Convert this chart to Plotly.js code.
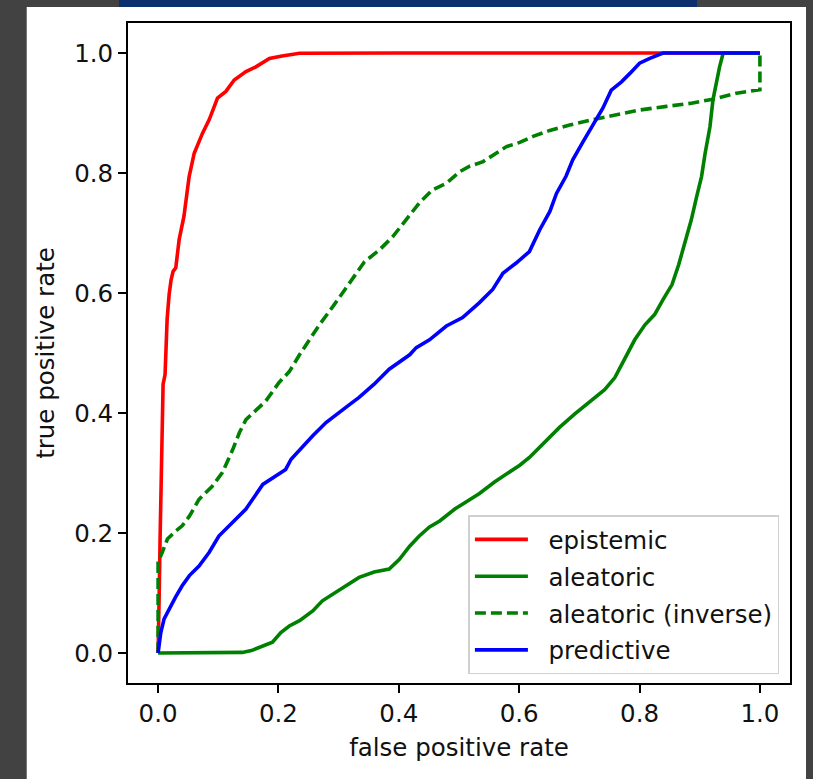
<!DOCTYPE html>
<html>
<head>
<meta charset="utf-8">
<script src="https://cdn.plot.ly/plotly-3.0.1.min.js"></script>
<style>
html,body{margin:0;padding:0;background:#424242;}
#chart{width:813px;height:779px;}
</style>
</head>
<body>
<div id="chart"></div>
<script>
// ---- data (ROC curves) ----
const epistemicX = [0, 0.0008, 0.0017, 0.0033, 0.005, 0.0067, 0.0083, 0.0116, 0.0133, 0.015, 0.0183, 0.0216, 0.025, 0.0294, 0.035, 0.043, 0.0516, 0.06, 0.0737, 0.085, 0.0987, 0.1126, 0.1265, 0.146, 0.1625, 0.185, 0.206, 0.235, 0.4, 0.6, 0.8, 1.0];
const epistemicY = [0, 0.023, 0.09, 0.19, 0.306, 0.423, 0.448, 0.464, 0.506, 0.556, 0.597, 0.622, 0.636, 0.642, 0.689, 0.728, 0.794, 0.833, 0.866, 0.889, 0.925, 0.936, 0.955, 0.969, 0.977, 0.991, 0.995, 0.9995, 1.0, 1.0, 1.0, 1.0];

const aleatoricX = [0, 0.05, 0.1, 0.14, 0.155, 0.168, 0.19, 0.204, 0.218, 0.235, 0.257, 0.273, 0.29, 0.312, 0.334, 0.359, 0.384, 0.401, 0.418, 0.434, 0.451, 0.468, 0.493, 0.509, 0.534, 0.559, 0.584, 0.601, 0.617, 0.634, 0.651, 0.667, 0.692, 0.717, 0.742, 0.759, 0.775, 0.792, 0.809, 0.825, 0.839, 0.854, 0.865, 0.874, 0.88, 0.886, 0.895, 0.903, 0.909, 0.917, 0.922, 0.928, 0.933, 0.939, 1.0];
const aleatoricY = [0, 0, 0, 0.001, 0.004, 0.0095, 0.018, 0.034, 0.045, 0.054, 0.07, 0.087, 0.098, 0.112, 0.126, 0.135, 0.14, 0.156, 0.178, 0.195, 0.21, 0.22, 0.24, 0.25, 0.266, 0.285, 0.301, 0.313, 0.326, 0.343, 0.36, 0.376, 0.398, 0.418, 0.439, 0.459, 0.489, 0.522, 0.547, 0.564, 0.589, 0.614, 0.647, 0.68, 0.705, 0.722, 0.761, 0.794, 0.833, 0.877, 0.922, 0.955, 0.977, 1.0, 1.0];

const inverseX = [0, 0, 0, 0.007, 0.0155, 0.029, 0.04, 0.052, 0.068, 0.09, 0.107, 0.124, 0.135, 0.146, 0.163, 0.179, 0.201, 0.218, 0.235, 0.251, 0.268, 0.293, 0.318, 0.343, 0.368, 0.39, 0.412, 0.434, 0.456, 0.479, 0.501, 0.517, 0.54, 0.562, 0.579, 0.601, 0.623, 0.651, 0.684, 0.723, 0.762, 0.8, 0.845, 0.884, 0.922, 0.961, 1.0, 1.0];
const inverseY = [0, 0.08, 0.151, 0.168, 0.19, 0.203, 0.212, 0.228, 0.256, 0.278, 0.301, 0.339, 0.367, 0.389, 0.406, 0.42, 0.451, 0.469, 0.497, 0.522, 0.547, 0.581, 0.617, 0.652, 0.672, 0.694, 0.722, 0.75, 0.772, 0.783, 0.802, 0.811, 0.819, 0.833, 0.844, 0.851, 0.861, 0.871, 0.880, 0.889, 0.897, 0.905, 0.911, 0.916, 0.923, 0.933, 0.939, 1.0];

const predictiveX = [0, 0.0045, 0.01, 0.018, 0.029, 0.04, 0.052, 0.068, 0.085, 0.101, 0.124, 0.146, 0.174, 0.19, 0.212, 0.221, 0.235, 0.257, 0.279, 0.301, 0.318, 0.334, 0.359, 0.384, 0.418, 0.429, 0.451, 0.479, 0.506, 0.534, 0.556, 0.573, 0.595, 0.617, 0.634, 0.651, 0.662, 0.678, 0.689, 0.706, 0.723, 0.739, 0.753, 0.77, 0.784, 0.8, 0.817, 0.839, 0.9, 1.0];
const predictiveY = [0, 0.034, 0.057, 0.073, 0.093, 0.112, 0.129, 0.145, 0.168, 0.195, 0.217, 0.24, 0.281, 0.292, 0.306, 0.323, 0.339, 0.362, 0.384, 0.4, 0.414, 0.426, 0.448, 0.473, 0.497, 0.509, 0.522, 0.545, 0.559, 0.584, 0.606, 0.633, 0.65, 0.669, 0.705, 0.736, 0.766, 0.795, 0.822, 0.852, 0.882, 0.908, 0.938, 0.952, 0.966, 0.983, 0.991, 1.0, 1.0, 1.0];

const seriesNames = ["epistemic", "aleatoric", "aleatoric (inverse)", "predictive"];
const tickVals = [0, 0.2, 0.4, 0.6, 0.8, 1.0];
const tickText = ["0.0", "0.2", "0.4", "0.6", "0.8", "1.0"];
const xTitle = "false positive rate";
const yTitle = "true positive rate";

const FONT = "DejaVu Sans, sans-serif";
const FS = 24.5;
const PAD = "\u00a0\u00a0"; // spacing between legend sample and label
const LW = 3.6;
const traces = [
  {x: epistemicX, y: epistemicY, name: PAD + seriesNames[0], legendgroup: "a", mode: "lines", line: {color: "#ff0000", width: LW}},
  {x: aleatoricX, y: aleatoricY, name: PAD + seriesNames[1], legendgroup: "b", mode: "lines", line: {color: "#008000", width: LW}},
  {x: inverseX, y: inverseY, name: PAD + seriesNames[2], legendgroup: "c", mode: "lines", line: {color: "#008000", width: LW, dash: "11px,5px"}},
  {x: predictiveX, y: predictiveY, name: PAD + seriesNames[3], legendgroup: "d", mode: "lines", line: {color: "#0000ff", width: LW}}
];

const axisCommon = {
  range: [-0.05, 1.05], tickvals: tickVals, ticktext: tickText,
  showgrid: false, zeroline: false, showline: true, mirror: true,
  linecolor: "#000", linewidth: 2, ticks: "outside", ticklen: 8, tickwidth: 2, tickcolor: "#000",
  tickfont: {family: FONT, size: FS, color: "#111"}
};

const layout = {
  width: 813, height: 779,
  margin: {l: 128, r: 23, t: 23, b: 96, pad: 0},
  paper_bgcolor: "#424242", plot_bgcolor: "#ffffff",
  showlegend: true,
  font: {family: FONT, size: FS, color: "#111"},
  xaxis: Object.assign({}, axisCommon, {title: {text: xTitle, font: {family: FONT, size: FS, color: "#111"}, standoff: 11}}),
  yaxis: Object.assign({}, axisCommon, {title: {text: yTitle, font: {family: FONT, size: FS, color: "#111"}, standoff: 13}}),
  legend: {x: 0.984, y: 0.013, xanchor: "right", yanchor: "bottom",
           traceorder: "grouped", tracegroupgap: 2,
           bgcolor: "rgba(255,255,255,0.9)", bordercolor: "#d0d0d0", borderwidth: 1.5,
           font: {family: FONT, size: FS, color: "#111"}, itemwidth: 53},
  shapes: [
    {type: "rect", xref: "paper", yref: "paper", x0: -0.153, x1: 1.0242, y0: -0.2, y1: 1.0242,
     fillcolor: "#ffffff", line: {width: 0}, layer: "below"},
    {type: "rect", xref: "paper", yref: "paper", x0: -0.0136, x1: 0.8595, y0: 1.0242, y1: 1.1,
     fillcolor: "#0d2f6e", line: {width: 0}, layer: "below"}
  ]
};

Plotly.newPlot("chart", traces, layout, {staticPlot: true, displayModeBar: false});
</script>
</body>
</html>
